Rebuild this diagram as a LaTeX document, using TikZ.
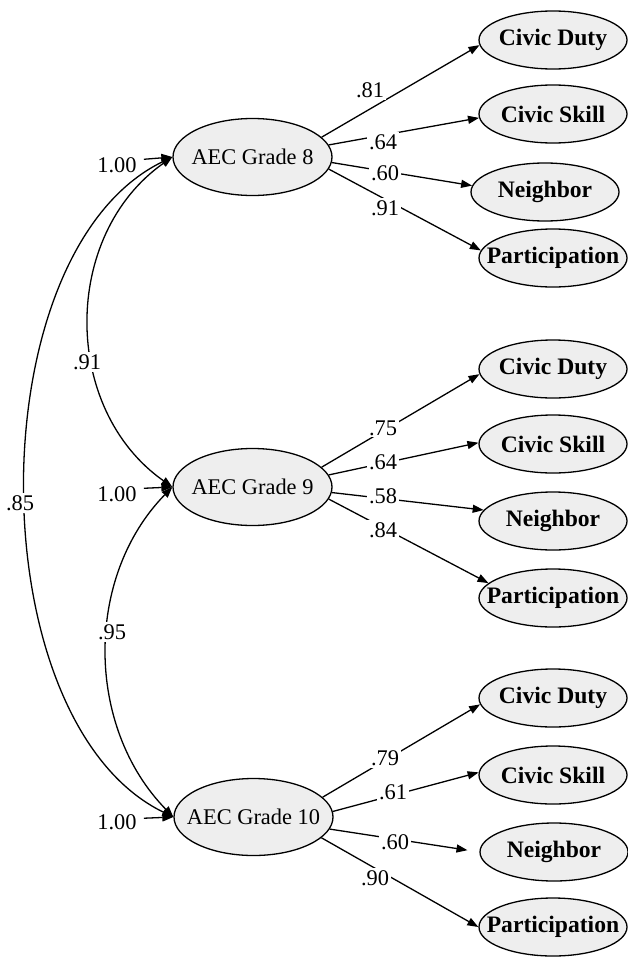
\documentclass[tikz,border=0pt]{standalone}
\usepackage{fontspec}
\setmainfont{Liberation Serif}
\usepackage{tikz}
\usetikzlibrary{arrows.meta}
\usetikzlibrary{shapes.geometric}
\definecolor{ovalfill}{RGB}{238,238,238}

\begin{document}
\begin{tikzpicture}[x=0.5pt, y=-0.5pt, >={Triangle[length=5.5pt,width=4pt]}, line width=0.65pt,
  font=\fontsize{11.2}{14}\selectfont,
  factor/.style ={ellipse,draw,fill=ovalfill,minimum width=79.5pt,minimum height=38.5pt,inner sep=0pt},
  item/.style ={ellipse,draw,fill=ovalfill,minimum width=74pt,minimum height=29pt,inner sep=0pt},
  itemtext/.style ={font=\fontsize{11.8}{14}\selectfont\bfseries},
  coef/.style ={fill=white,inner sep=1pt}]
\useasboundingbox (0,0) rectangle (627,958);
% latent factors
\node[factor, label=center:AEC Grade 8] (g8) at (252.5,157) {};
\node[factor, label=center:AEC Grade 9] (g9) at (252.5,487) {};
\node[factor, label=center:AEC Grade 10] (g10) at (253.5,817) {};
% indicators, grade 8
\node[item, label={[itemtext]center:Civic Duty}] (duty8) at (553,40) {};
\node[item, label={[itemtext]center:Civic Skill}] (skill8) at (553,114) {};
\node[item, label={[itemtext]center:Neighbor}] (nbr8) at (545,192) {};
\node[item, label={[itemtext]center:Participation}] (part8) at (553,258) {};
% indicators, grade 9
\node[item, label={[itemtext]center:Civic Duty}] (duty9) at (553,369) {};
\node[item, label={[itemtext]center:Civic Skill}] (skill9) at (553,444) {};
\node[item, label={[itemtext]center:Neighbor}] (nbr9) at (553,521) {};
\node[item, label={[itemtext]center:Participation}] (part9) at (553,598) {};
% indicators, grade 10
\node[item, label={[itemtext]center:Civic Duty}] (duty10) at (553,698) {};
\node[item, label={[itemtext]center:Civic Skill}] (skill10) at (553,775) {};
\node[item, label={[itemtext]center:Neighbor}] (nbr10) at (554,852) {};
\node[item, label={[itemtext]center:Participation}] (part10) at (553,927) {};
% variances
\node (v8) at (117,165) {1.00};
\node (v9) at (117,494) {1.00};
\node (v10) at (117,822) {1.00};
\draw[->] (v8.12) -- (g8.west);
\draw[->] (v9.12) -- (g9.west);
\draw[->] (v10.8) -- (g10.west);
% loadings
\draw[->] (g8.16) -- (duty8.184);
\draw[->] (g8.9) -- (skill8.183);
\draw[->] (g8.-4) -- (nbr8.175);
\draw[->] (g8.-9) -- (part8.174);
\draw[->] (g9.16) -- (duty9.184);
\draw[->] (g9.9) -- (skill9.179);
\draw[->] (g9.-4) -- (nbr9.171);
\draw[->] (g9.-9) -- (part9.167);
\draw[->] (g10.16) -- (duty10.185);
\draw[->] (g10.4) -- (skill10.178);
\draw[->, shorten >=6pt] (g10.-9) -- (nbr10.180);
\draw[->] (g10.-17) -- (part10.180);
% correlations
\draw[<->] (g8.west) .. controls +(-111,78) and +(-111,-78) .. (g9.west);
\draw[<->] (g8.west) .. controls +(-196,95) and +(-196,-95) .. (g10.west);
\draw[<->] (g9.west) .. controls +(-88,90) and +(-88,-90) .. (g10.west);
\node[coef] (r89) at (87,362) {.91};
\node[coef] (r810) at (20,503) {.85};
\node[coef] (r910) at (112,632) {.95};
% loading values
\node[coef] (l81) at (370,90) {.81};
\node[coef] (l82) at (383,142) {.64};
\node[coef] (l83) at (385,173) {.60};
\node[coef] (l84) at (385,208) {.91};
\node[coef] (l91) at (383,428) {.75};
\node[coef] (l92) at (383,462) {.64};
\node[coef] (l93) at (383,496) {.58};
\node[coef] (l94) at (383,530) {.84};
\node[coef] (l101) at (385,758) {.79};
\node[coef] (l102) at (393,792) {.61};
\node[coef] (l103) at (395,842) {.60};
\node[coef] (l104) at (375,878) {.90};
\end{tikzpicture}
\end{document}
